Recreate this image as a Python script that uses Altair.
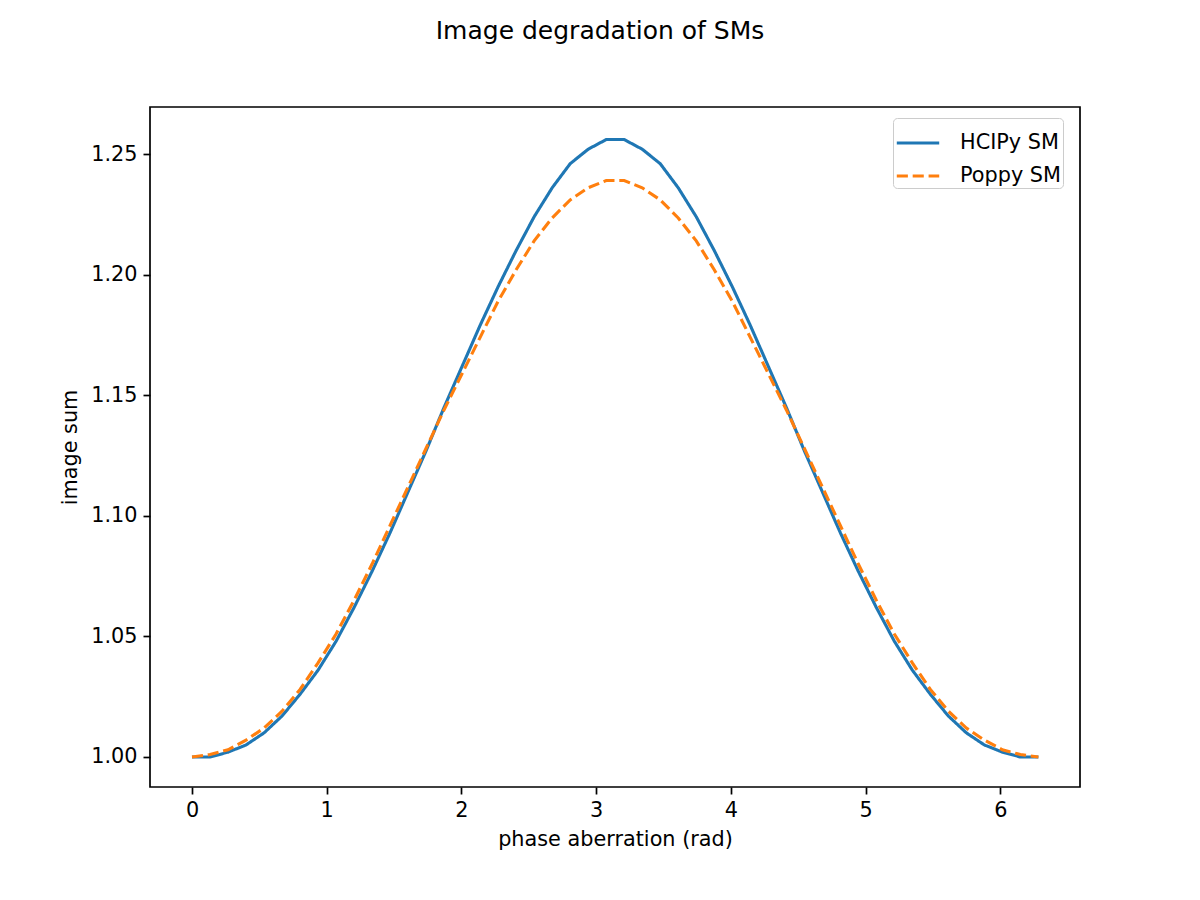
import altair as alt
import pandas as pd

phase = [0.0, 0.1337, 0.2674, 0.4011, 0.5347, 0.6684, 0.8021, 0.9358, 1.0695, 1.2032,
         1.3368, 1.4705, 1.6042, 1.7379, 1.8716, 2.0053, 2.1390, 2.2726, 2.4063, 2.5400,
         2.6737, 2.8074, 2.9411, 3.0748, 3.2084, 3.3421, 3.4758, 3.6095, 3.7432, 3.8769,
         4.0106, 4.1442, 4.2779, 4.4116, 4.5453, 4.6790, 4.8127, 4.9463, 5.0800, 5.2137,
         5.3474, 5.4811, 5.6148, 5.7485, 5.8821, 6.0158, 6.1495, 6.2832]

hcipy_sm = [1.000, 1.000, 1.002, 1.005, 1.010, 1.017, 1.026, 1.036, 1.048, 1.062,
            1.077, 1.093, 1.110, 1.127, 1.145, 1.162, 1.179, 1.195, 1.210, 1.224,
            1.236, 1.246, 1.252, 1.256, 1.256, 1.252, 1.246, 1.236, 1.224, 1.210,
            1.195, 1.179, 1.162, 1.145, 1.127, 1.110, 1.093, 1.077, 1.062, 1.048,
            1.036, 1.026, 1.017, 1.010, 1.005, 1.002, 1.000, 1.000]

poppy_sm = [1.000, 1.001, 1.003, 1.007, 1.012, 1.019, 1.028, 1.039, 1.051, 1.065,
            1.080, 1.096, 1.112, 1.128, 1.144, 1.159, 1.174, 1.189, 1.202, 1.214,
            1.2235, 1.231, 1.236, 1.239, 1.239, 1.236, 1.231, 1.2235, 1.214, 1.202,
            1.189, 1.174, 1.159, 1.144, 1.128, 1.112, 1.096, 1.080, 1.065, 1.051,
            1.039, 1.028, 1.019, 1.012, 1.007, 1.003, 1.001, 1.000]

series_names = ["HCIPy SM", "Poppy SM"]
x_ticks = [0, 1, 2, 3, 4, 5, 6]
y_ticks = [1.00, 1.05, 1.10, 1.15, 1.20, 1.25]

rows = []
for name, vals in zip(series_names, [hcipy_sm, poppy_sm]):
    for i, (p, v) in enumerate(zip(phase, vals)):
        rows.append({"phase": p, "value": v, "series": name, "order": i})
df = pd.DataFrame(rows)

FONT = "DejaVu Sans"
FS = 20.8

chart = alt.Chart(df).mark_line(strokeWidth=3.1, clip=True).encode(
    x=alt.X("phase:Q",
            scale=alt.Scale(domain=[-0.3118, 6.592], nice=False, zero=False),
            axis=alt.Axis(values=x_ticks, format="d", title="phase aberration (rad)",
                          grid=False, tickSize=7, tickWidth=1.7, domain=False,
                          labelFontSize=FS, labelFont=FONT, labelColor="black",
                          labelPadding=6, titleFontSize=FS, titleFont=FONT,
                          titleFontWeight="normal", titleColor="black", titlePadding=10,
                          tickColor="black")),
    y=alt.Y("value:Q",
            scale=alt.Scale(domain=[0.98756, 1.2695], nice=False, zero=False),
            axis=alt.Axis(values=y_ticks, format=".2f", title="image sum",
                          grid=False, tickSize=7, tickWidth=1.7, domain=False,
                          labelFontSize=FS, labelFont=FONT, labelColor="black",
                          labelPadding=6, titleFontSize=FS, titleFont=FONT,
                          titleFontWeight="normal", titleColor="black", titlePadding=10,
                          tickColor="black")),
    color=alt.Color("series:N",
                    scale=alt.Scale(domain=series_names, range=["#1f77b4", "#ff7f0e"]),
                    title=None,
                    legend=alt.Legend(orient="none", legendX=743, legendY=11,
                                      symbolType="stroke", symbolSize=1800,
                                      symbolStrokeWidth=3.1, labelFontSize=FS,
                                      labelFont=FONT, labelColor="black", labelOffset=19,
                                      rowPadding=0, padding=2, strokeColor="#cccccc",
                                      fillColor="white", cornerRadius=4)),
    strokeDash=alt.StrokeDash("series:N",
                              scale=alt.Scale(domain=series_names,
                                              range=[[1, 0], [11.1, 4.8]]),
                              title=None, legend=None),
    order="order:Q",
).properties(
    width=930,
    height=680,
    title=alt.TitleParams("Image degradation of SMs", fontSize=25, font=FONT,
                          fontWeight="normal", color="black", anchor="middle",
                          dx=-15, baseline="bottom", offset=38),
    autosize=alt.AutoSizeParams(type="none"),
    padding={"left": 142, "top": 99, "right": 112, "bottom": 105},
    background="white",
).configure_view(
    stroke="black", strokeWidth=1.7
)

chart.save("out.html", embed_options={"renderer": "svg", "actions": False})
